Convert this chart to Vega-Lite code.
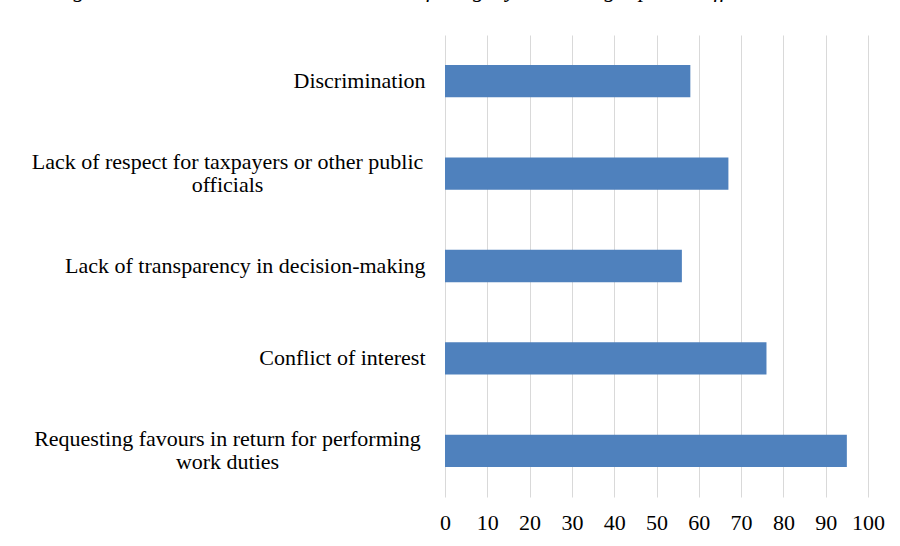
{
  "$schema": "https://vega.github.io/schema/vega-lite/v6.json",
  "autosize": "none",
  "width": 423,
  "height": 462,
  "padding": {"left": 445, "top": 35, "right": 32, "bottom": 49},
  "background": "white",
  "title": {
    "text": "Figure no. 2. Acts considered a breach of integrity in holding a public office",
    "font": "Liberation Serif, Times New Roman, serif",
    "fontSize": 23,
    "fontStyle": "italic",
    "fontWeight": "normal",
    "color": "#000000",
    "anchor": "start",
    "frame": "group",
    "dx": -392,
    "offset": 33
  },
  "data": {
    "values": [
      {"act": "Discrimination", "value": 58},
      {"act": "Lack of respect for taxpayers or other public officials", "value": 67},
      {"act": "Lack of transparency in decision-making", "value": 56},
      {"act": "Conflict of interest", "value": 76},
      {"act": "Requesting favours in return for performing work duties", "value": 95}
    ]
  },
  "mark": {"type": "bar", "color": "#4F81BD"},
  "encoding": {
    "y": {
      "field": "act",
      "type": "nominal",
      "sort": null,
      "scale": {"paddingInner": 0.65, "paddingOuter": 0.325},
      "axis": {
        "title": null,
        "domain": false,
        "ticks": false,
        "labelFont": "Liberation Serif, Times New Roman, serif",
        "labelFontSize": 22,
        "labelColor": "#000000",
        "labelLimit": 0,
        "labelLineHeight": 23,
        "labelAlign": {"condition": {"test": "length(datum.value) > 45", "value": "center"}, "value": "right"},
        "labelPadding": {"condition": {"test": "length(datum.value) > 45", "value": 218}, "value": 20},
        "labelOffset": {"condition": {"test": "length(datum.value) > 45", "value": -12}, "value": 0},
        "labelExpr": "datum.label == 'Lack of respect for taxpayers or other public officials' ? ['Lack of respect for taxpayers or other public', 'officials'] : datum.label == 'Requesting favours in return for performing work duties' ? ['Requesting favours in return for performing', 'work duties'] : datum.label"
      }
    },
    "x": {
      "field": "value",
      "type": "quantitative",
      "scale": {"domain": [0, 100], "nice": false},
      "axis": {
        "title": null,
        "values": [0, 10, 20, 30, 40, 50, 60, 70, 80, 90, 100],
        "domain": false,
        "ticks": false,
        "grid": true,
        "gridColor": "#d9d9d9",
        "gridWidth": 1,
        "labelFont": "Liberation Serif, Times New Roman, serif",
        "labelFontSize": 22,
        "labelColor": "#000000",
        "labelPadding": 15,
        "labelFlush": false
      }
    }
  },
  "config": {
    "view": {"stroke": null}
  }
}
